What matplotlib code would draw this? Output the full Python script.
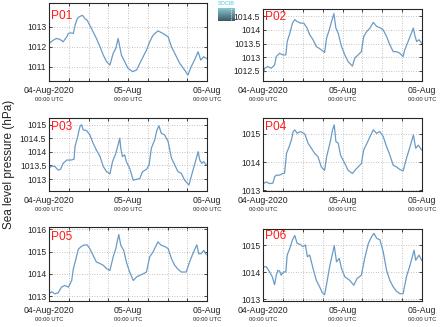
import numpy as np
import matplotlib
matplotlib.use('Agg')
import matplotlib.pyplot as plt
from matplotlib.ticker import FormatStrFormatter

plt.rcParams['font.family'] = ['Liberation Sans', 'DejaVu Sans']

# hours since 04-Aug-2020 00:00 UTC, pressure in hPa
p01_hours = [0, 1.3, 2.3, 3.3, 4.3, 5.4, 5.9, 6.6, 7.4, 7.9, 8.6, 9.4, 10.2, 10.9, 11.6, 12.4,
             13.4, 14.4, 15.5, 16.5, 17.5, 18.5, 19.5, 20.3, 21.0, 21.5, 22.0, 23.0, 24.0, 25.4,
             26.6, 27.6, 28.6, 29.6, 30.6, 31.6, 33.1, 34.6, 36.2, 37.2, 38.2, 39.7, 41.2, 42.2,
             43.2, 44.2, 45.3, 46.1, 47.0, 47.8]
p01_values = [1012.17, 1012.33, 1012.42, 1012.37, 1012.25, 1012.5, 1012.67, 1012.7, 1012.67,
              1013.08, 1013.42, 1013.53, 1013.58, 1013.42, 1013.33, 1013.08, 1012.75, 1012.42,
              1012.0, 1011.58, 1011.25, 1011.08, 1011.67, 1011.92, 1012.42, 1012.0, 1011.58,
              1011.25, 1010.92, 1010.75, 1010.83, 1011.17, 1011.5, 1011.83, 1012.25, 1012.58,
              1012.8, 1012.67, 1012.5, 1012.0, 1011.67, 1011.17, 1010.83, 1010.58, 1011.0,
              1011.33, 1011.75, 1011.33, 1011.5, 1011.42]

p02_hours = [0, 0.5, 1.5, 2.5, 3.5, 4.0, 5.0, 6.0, 6.9, 7.3, 8.1, 8.9, 9.6, 10.3, 11.3, 12.3,
             13.3, 14.1, 15.1, 16.1, 17.6, 18.6, 19.2, 20.0, 20.7, 21.4, 22.0, 22.7, 23.7, 24.7,
             25.7, 27.0, 27.7, 28.7, 29.7, 30.4, 31.3, 32.3, 33.3, 34.3, 35.5, 36.3, 37.3, 38.3,
             39.3, 40.3, 41.3, 42.3, 42.8, 43.8, 44.6, 45.4, 45.9, 46.4, 47.1, 47.9]
p02_values = [1012.34, 1012.59, 1012.65, 1012.59, 1012.71, 1013.02, 1013.14, 1013.08, 1013.08,
              1013.57, 1013.88, 1014.25, 1014.38, 1014.31, 1014.25, 1014.25, 1014.07, 1013.82,
              1013.64, 1013.39, 1013.27, 1013.17, 1013.7, 1014.0, 1014.31, 1014.6, 1014.07,
              1013.88, 1013.39, 1013.08, 1012.83, 1012.67, 1012.96, 1013.08, 1013.2, 1013.76,
              1013.94, 1014.07, 1014.28, 1014.13, 1014.07, 1014.0, 1013.76, 1013.45, 1013.2,
              1013.2, 1013.14, 1013.02, 1013.27, 1013.57, 1013.82, 1014.07, 1013.76, 1013.57,
              1013.64, 1013.51]

p03_hours = [0, 0.8, 1.8, 2.8, 3.5, 4.3, 5.4, 6.6, 7.6, 7.9, 8.6, 9.4, 9.9, 10.4, 11.4, 12.4,
             13.4, 14.4, 15.5, 16.5, 17.5, 18.5, 19.3, 20.3, 21.0, 21.5, 21.8, 22.3, 23.0, 23.5,
             24.5, 25.6, 26.6, 27.6, 28.4, 29.6, 30.4, 31.1, 32.1, 32.8, 33.4, 34.1, 35.1, 36.2,
             37.2, 38.2, 39.2, 40.2, 41.2, 42.5, 43.2, 44.2, 45.3, 45.8, 46.4, 47.0, 47.8]
p03_values = [1013.4, 1013.48, 1013.46, 1013.33, 1013.36, 1013.58, 1013.7, 1013.7, 1013.73,
              1014.2, 1014.51, 1014.94, 1015.0, 1014.81, 1014.79, 1014.63, 1014.32, 1014.07,
              1013.83, 1013.46, 1013.27, 1013.19, 1013.64, 1013.95, 1014.26, 1014.51, 1014.14,
              1013.83, 1013.89, 1013.64, 1013.4, 1012.96, 1012.99, 1013.02, 1013.27, 1013.36,
              1013.52, 1014.14, 1014.44, 1014.81, 1014.96, 1014.69, 1014.63, 1014.38, 1013.77,
              1013.52, 1013.27, 1013.21, 1012.96, 1012.78, 1013.09, 1013.52, 1014.01, 1013.7,
              1013.58, 1013.64, 1013.52]

p04_hours = [0, 1.0, 2.0, 3.0, 3.5, 4.0, 5.0, 6.0, 6.5, 7.1, 7.9, 8.6, 9.1, 9.6, 10.3, 11.3,
             12.6, 13.6, 14.6, 15.6, 16.6, 17.6, 18.6, 19.2, 20.2, 21.0, 21.5, 22.0, 22.7, 23.4,
             24.7, 25.7, 27.0, 28.2, 29.7, 30.4, 31.4, 32.3, 33.3, 34.3, 35.3, 36.3, 37.3, 38.3,
             39.3, 40.3, 41.3, 42.3, 43.3, 44.4, 45.4, 46.1, 46.9, 47.9]
p04_values = [1013.24, 1013.3, 1013.24, 1013.26, 1013.48, 1013.54, 1013.54, 1013.6, 1013.6,
              1014.31, 1014.55, 1014.79, 1015.08, 1015.14, 1015.02, 1015.08, 1015.0, 1014.67,
              1014.49, 1014.31, 1014.19, 1013.83, 1013.71, 1014.19, 1014.67, 1015.14, 1015.32,
              1014.73, 1014.67, 1014.25, 1013.95, 1013.71, 1013.6, 1013.77, 1013.95, 1014.43,
              1014.67, 1014.9, 1015.14, 1015.02, 1015.08, 1014.9, 1014.55, 1014.25, 1013.89,
              1013.83, 1013.74, 1013.69, 1014.13, 1014.55, 1014.96, 1014.49, 1014.6, 1014.43]

p05_hours = [0, 0.8, 1.8, 2.8, 3.8, 4.8, 5.9, 6.9, 7.4, 8.2, 8.9, 9.6, 10.4, 11.6, 12.4, 13.4,
             14.4, 15.5, 16.5, 17.5, 18.5, 19.5, 20.3, 20.7, 21.2, 21.8, 22.7, 23.5, 24.5, 25.6,
             26.6, 27.6, 28.6, 29.6, 30.6, 31.6, 33.1, 34.1, 35.1, 36.2, 37.2, 38.2, 39.2, 40.2,
             41.7, 42.7, 43.7, 44.9, 45.5, 46.2, 47.0, 47.8]
p05_values = [1013.1, 1013.2, 1013.1, 1013.15, 1013.4, 1013.48, 1013.4, 1013.7, 1014.23,
              1014.68, 1015.1, 1015.2, 1015.28, 1015.3, 1015.13, 1014.83, 1014.53, 1014.46,
              1014.38, 1014.23, 1014.15, 1014.76, 1015.13, 1015.43, 1015.76, 1015.28, 1015.05,
              1014.53, 1014.08, 1013.7, 1013.86, 1013.93, 1014.0, 1014.08, 1014.76, 1014.98,
              1015.43, 1015.28, 1015.23, 1015.13, 1014.68, 1014.38, 1014.2, 1014.08, 1014.08,
              1014.53, 1014.9, 1015.3, 1014.9, 1014.9, 1015.05, 1014.86]

p06_hours = [0, 1.0, 2.0, 2.8, 3.5, 4.0, 4.5, 5.0, 5.5, 6.2, 6.9, 7.3, 8.1, 8.9, 9.6, 10.3,
             11.3, 12.1, 12.8, 13.4, 14.1, 15.1, 16.1, 17.1, 17.9, 18.6, 19.4, 20.2, 21.0, 21.5,
             22.2, 23.0, 23.7, 24.7, 26.2, 27.4, 28.4, 29.7, 30.7, 31.8, 32.8, 33.5, 34.3, 35.3,
             36.3, 37.3, 38.3, 39.3, 40.3, 41.3, 42.3, 43.3, 44.4, 45.6, 46.1, 47.1, 47.9]
p06_values = [1014.2, 1014.2, 1014.01, 1013.83, 1013.54, 1013.89, 1014.07, 1014.04, 1013.89,
              1014.01, 1014.01, 1014.63, 1014.88, 1015.19, 1015.35, 1015.06, 1015.02, 1014.94,
              1015.0, 1014.57, 1014.63, 1014.14, 1013.7, 1013.46, 1013.25, 1013.17, 1013.7,
              1014.26, 1014.69, 1014.98, 1014.38, 1014.51, 1014.14, 1013.83, 1013.7, 1013.52,
              1013.77, 1013.89, 1014.51, 1015.06, 1015.31, 1015.43, 1015.25, 1015.19, 1014.75,
              1014.07, 1013.7, 1013.46, 1013.3, 1013.21, 1013.21, 1013.83, 1014.26, 1014.81,
              1014.44, 1014.63, 1014.44]

station_names = ['P01', 'P02', 'P03', 'P04', 'P05', 'P06']
station_hours = [p01_hours, p02_hours, p03_hours, p04_hours, p05_hours, p06_hours]
station_values = [p01_values, p02_values, p03_values, p04_values, p05_values, p06_values]
station_yticks = [[1011, 1012, 1013],
                  [1012.5, 1013, 1013.5, 1014, 1014.5],
                  [1013, 1013.5, 1014, 1014.5, 1015],
                  [1013, 1014, 1015],
                  [1013, 1014, 1015, 1016],
                  [1013, 1014, 1015]]
station_ylims = [(1010.28, 1014.2), (1012.12, 1014.77), (1012.56, 1015.25),
                 (1012.98, 1015.56), (1012.78, 1016.1), (1012.94, 1015.59)]

x_ticks = [0, 6, 12, 18, 24, 30, 36, 42, 48]
x_day_ticks = [0, 24, 48]
x_day_labels = ['04-Aug-2020', '05-Aug', '06-Aug']

W, H = 441, 327
# axes boxes in pixels: left, top, right, bottom
boxes = [(49, 3, 207, 81), (263, 9, 422, 81),
         (49, 118, 207, 191), (263, 118, 422, 191),
         (49, 227, 207, 301), (263, 229, 422, 301)]
label_tops = [10, 11, 121, 121, 231, 230]

line_color = '#6a9bc6'
frame_color = '#262626'

fig = plt.figure(figsize=(W / 100, H / 100), dpi=100)

for i in range(6):
    l, t, r, b = boxes[i]
    ax = fig.add_axes([l / W, 1 - b / H, (r - l) / W, (b - t) / H])
    ax.plot(station_hours[i], station_values[i], color=line_color, lw=0.9)
    ax.set_xlim(0, 48)
    ax.set_ylim(*station_ylims[i])
    ax.set_yticks(station_yticks[i])
    ax.yaxis.set_major_formatter(FormatStrFormatter('%g'))
    ax.set_xticks(x_ticks)
    ax.set_xticklabels(['' for _ in x_ticks])
    ax.grid(True, color='#b0b0b0', linestyle=(0, (1, 2)), linewidth=0.6)
    ax.tick_params(direction='in', length=2, width=0.6, colors=frame_color,
                   labelsize=6.2, pad=2, top=True, right=True)
    for sp in ax.spines.values():
        sp.set_color(frame_color)
        sp.set_linewidth(0.8)
    for xd, lab in zip(x_day_ticks, x_day_labels):
        ax.annotate(lab, xy=(xd, 0), xycoords=('data', 'axes fraction'),
                    xytext=(0, -3.5), textcoords='offset points',
                    ha='center', va='top', fontsize=6.3, color='#222222',
                    annotation_clip=False)
        ax.annotate('00:00 UTC', xy=(xd, 0), xycoords=('data', 'axes fraction'),
                    xytext=(0, -11.5), textcoords='offset points',
                    ha='center', va='top', fontsize=4.2, color='#222222',
                    annotation_clip=False)
    fig.text((l + 2) / W, 1 - label_tops[i] / H, station_names[i], color='#ff1a1a',
             fontsize=8.6, ha='left', va='top')

fig.text(9 / W, 1 - 164 / H, 'Sea level pressure (hPa)', rotation=90,
         ha='center', va='center', fontsize=8.5, color='#222222')

# small logo in the top gap
logo_ax = fig.add_axes([218 / W, 1 - 21 / H, 17 / W, 13 / H])
grad = np.linspace(0, 1, 20).reshape(-1, 1)
logo_cmap = matplotlib.colors.LinearSegmentedColormap.from_list('logo', ['#86c6cf', '#3c5968'])
logo_ax.imshow(grad, aspect='auto', cmap=logo_cmap, extent=(0, 1, 1, 0))
logo_ax.axvline(0.78, color='#e4eef1', lw=0.6, linestyle=(0, (1, 1)))
logo_ax.set_xlim(0, 1)
logo_ax.set_axis_off()
fig.text(226 / W, 1 - 1 / H, 'SOCIB', color='#40c8d8', fontsize=4, ha='center', va='top')

fig.savefig('out.png', dpi=100)
